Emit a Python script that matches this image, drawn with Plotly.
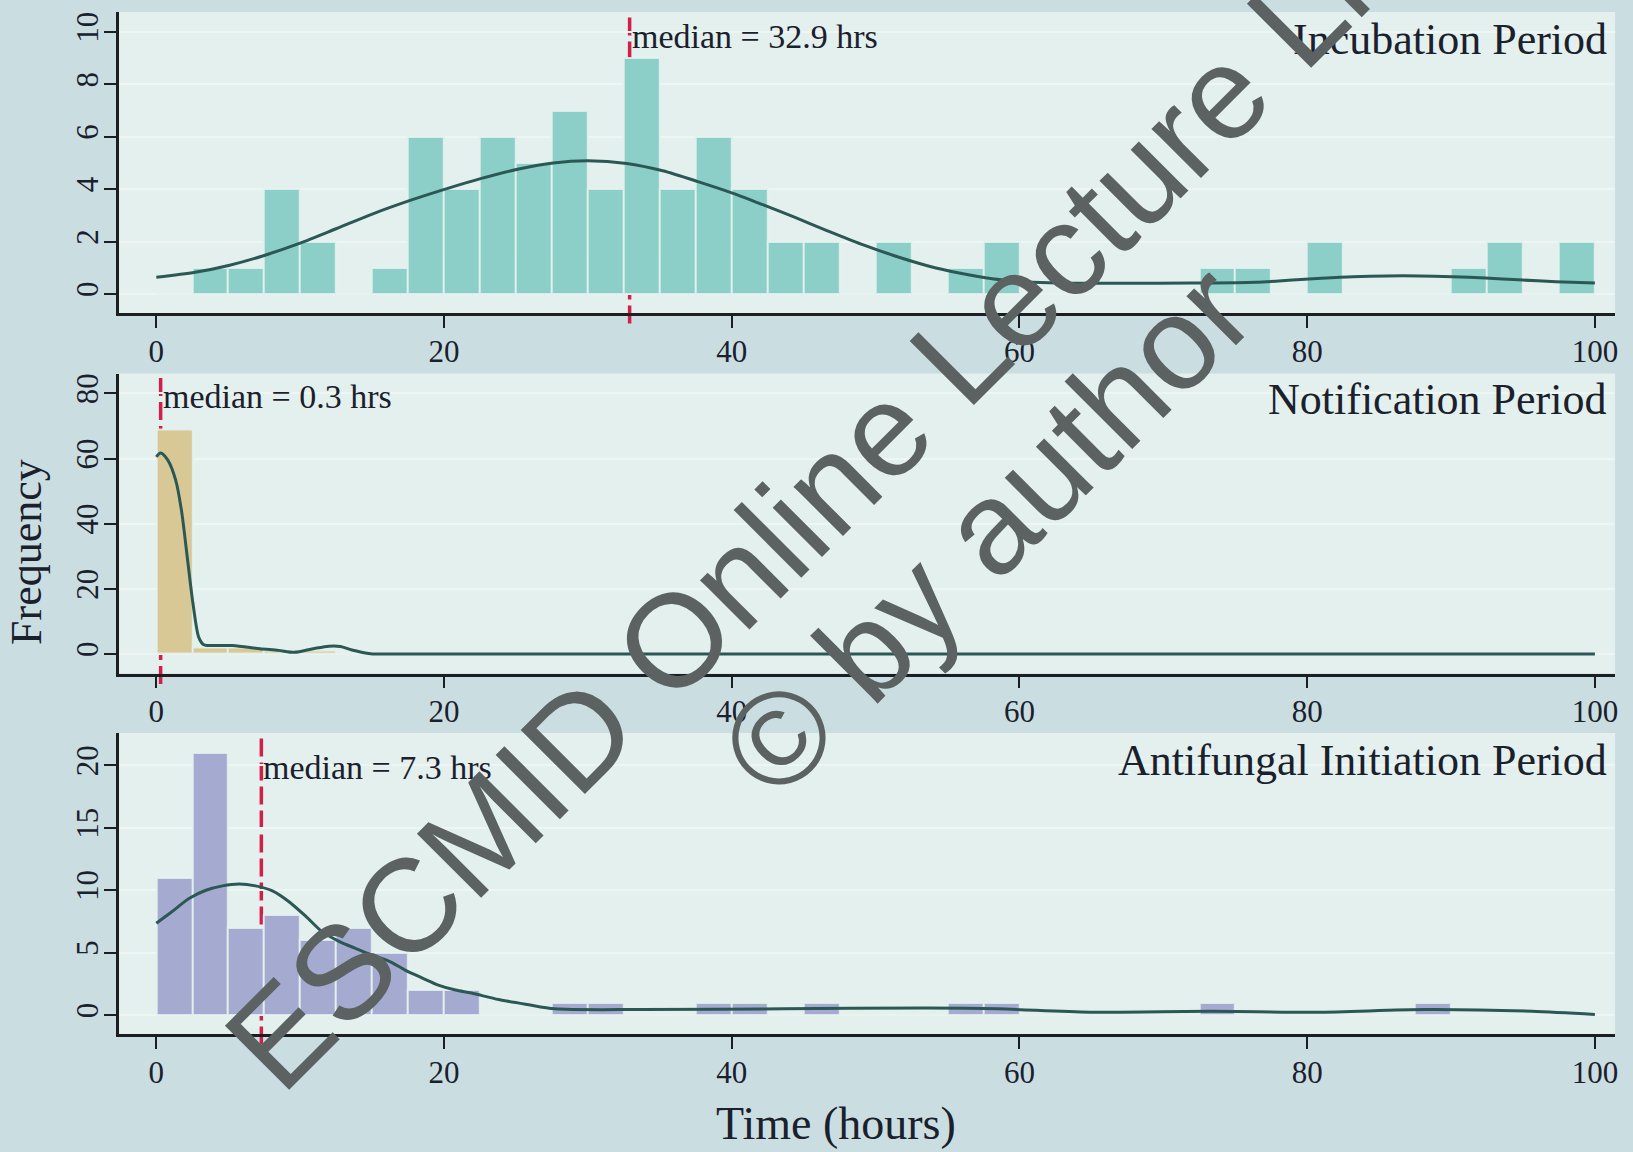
import plotly.graph_objects as go

# ---------------------------------------------------------------------------
# Data
# ---------------------------------------------------------------------------
BIN_WIDTH = 2.5
BIN_LEFT = [0, 2.5, 5, 7.5, 10, 12.5, 15, 17.5, 20, 22.5,
            25, 27.5, 30, 32.5, 35, 37.5, 40, 42.5, 45, 47.5,
            50, 52.5, 55, 57.5, 60, 62.5, 65, 67.5, 70, 72.5,
            75, 77.5, 80, 82.5, 85, 87.5, 90, 92.5, 95, 97.5]

INCUBATION_COUNTS = [0, 1, 1, 4, 2, 0, 1, 6, 4, 6,
                     5, 7, 4, 9, 4, 6, 4, 2, 2, 0,
                     2, 0, 1, 2, 0, 0, 0, 0, 0, 1,
                     1, 0, 2, 0, 0, 0, 1, 2, 0, 2]
NOTIFICATION_COUNTS = [69, 2, 2, 1, 1, 0, 0, 0, 0, 0,
                       0, 0, 0, 0, 0, 0, 0, 0, 0, 0,
                       0, 0, 0, 0, 0, 0, 0, 0, 0, 0,
                       0, 0, 0, 0, 0, 0, 0, 0, 0, 0]
ANTIFUNGAL_COUNTS = [11, 21, 7, 8, 6, 7, 5, 2, 2, 0,
                     0, 1, 1, 0, 0, 1, 1, 0, 1, 0,
                     0, 0, 1, 1, 0, 0, 0, 0, 0, 1,
                     0, 0, 0, 0, 0, 1, 0, 0, 0, 0]

# Kernel density overlays, in frequency units
INCUBATION_KDE_X = [0, 2.7, 5.1, 7.5, 9.9, 12.5, 15.1, 17.7, 20.2, 22.6, 25.2, 27.6,
                    30.0, 32.7, 35.2, 37.7, 40.0, 42.2, 44.4, 46.7, 49.0, 51.3, 53.6,
                    55.9, 58.1, 60.4, 62.7, 67.3, 71.9, 76.4, 78.7, 81.0, 83.2, 85.5,
                    87.8, 90.1, 92.4, 94.7, 97.3, 100]
INCUBATION_KDE_Y = [0.64, 0.83, 1.10, 1.47, 1.92, 2.49, 3.07, 3.58, 4.02, 4.41, 4.77, 5.00,
                    5.08, 4.98, 4.70, 4.28, 3.86, 3.40, 2.92, 2.40, 1.90, 1.46, 1.08,
                    0.79, 0.58, 0.47, 0.42, 0.41, 0.42, 0.45, 0.52, 0.60, 0.66, 0.69,
                    0.69, 0.66, 0.61, 0.54, 0.47, 0.42]

NOTIFICATION_KDE_X = [0, 0.3, 0.8, 1.35, 1.75, 2.15, 2.55, 2.95, 3.3, 3.6, 5.3, 7.2,
                      8.5, 9.6, 10.9, 12.0, 12.8, 13.6, 14.9, 15.5, 30, 50, 70, 100]
NOTIFICATION_KDE_Y = [60.5, 61.7, 59.5, 53.3, 44.0, 29.7, 15.4, 5.1, 2.8, 2.6, 2.6, 1.6,
                      1.1, 0.5, 1.6, 2.4, 2.3, 1.2, 0.05, 0, 0, 0, 0, 0]

ANTIFUNGAL_KDE_X = [0, 1.1, 2.3, 3.45, 4.6, 5.76, 6.9, 8.07, 9.2, 10.4, 11.5, 12.7,
                    13.8, 15.0, 16.2, 17.3, 18.5, 19.6, 20.8, 21.9, 23.8, 25.8, 27.7,
                    33.7, 43.6, 53.5, 58.5, 64.9, 73.3, 80.7, 88.2, 95.6, 100]
ANTIFUNGAL_KDE_Y = [7.36, 8.3, 9.36, 10.0, 10.35, 10.5, 10.35, 9.95, 9.1, 7.9, 6.7, 5.9,
                    5.36, 4.8, 4.3, 3.6, 2.96, 2.4, 2.0, 1.76, 1.24, 0.84, 0.5,
                    0.44, 0.5, 0.57, 0.5, 0.23, 0.3, 0.23, 0.44, 0.3, 0.04]

MEDIANS = [32.9, 0.3, 7.3]
TITLES = ["Incubation Period", "Notification Period", "Antifungal Initiation Period"]
X_TICKS = [0, 20, 40, 60, 80, 100]
Y_TICKS = [[0, 2, 4, 6, 8, 10], [0, 20, 40, 60, 80], [0, 5, 10, 15, 20]]

# ---------------------------------------------------------------------------
# Style
# ---------------------------------------------------------------------------
W, H = 1633, 1152
SERIF = "Liberation Serif, Times New Roman, serif"
TEXT = "#1a202c"
AXIS = "#1b1f22"
PAPER_BG = "#cadee2"
PLOT_BG = "#e3f0ed"
GRID = "#eef6f4"
KDE_COLOR = "#2b5854"
MEDIAN_RED = "#d11f4a"
BAR_COLORS = ["#8ccec8", "#d8c896", "#a5aad0"]

# vertical placement of each panel (pixels from the top): plot top, plot bottom
PANEL_PX = [(12, 313), (373.5, 673.5), (733, 1034)]
Y_RANGES = [[-0.725, 10.76], [-6.0, 86.1], [-1.52, 22.6]]
X_RANGE = [-2.61, 101.4]
X_DOMAIN = [119 / W, 1618 / W]
TITLE_Y_PX = [40, 399, 760]
MEDIAN_LABEL_Y = [0.92, 0.925, 0.885]

panels = [
    (INCUBATION_COUNTS, INCUBATION_KDE_X, INCUBATION_KDE_Y),
    (NOTIFICATION_COUNTS, NOTIFICATION_KDE_X, NOTIFICATION_KDE_Y),
    (ANTIFUNGAL_COUNTS, ANTIFUNGAL_KDE_X, ANTIFUNGAL_KDE_Y),
]

fig = go.Figure()
layout_axes = {}

for i, (counts, kx, ky) in enumerate(panels):
    n = "" if i == 0 else str(i + 1)
    xa, ya = "x" + n, "y" + n

    fig.add_trace(go.Bar(
        x=BIN_LEFT, y=counts, width=BIN_WIDTH, offset=0,
        marker=dict(color=BAR_COLORS[i],
                    line=dict(color="rgba(228,242,238,0.85)", width=2)),
        xaxis=xa, yaxis=ya, showlegend=False, hoverinfo="skip",
    ))
    fig.add_trace(go.Scatter(
        x=kx, y=ky, mode="lines",
        line=dict(color=KDE_COLOR, width=3, shape="spline", smoothing=0.8),
        xaxis=xa, yaxis=ya, showlegend=False, hoverinfo="skip",
    ))

    med = MEDIANS[i]
    fig.add_shape(
        type="line", xref=xa, yref=ya + " domain",
        x0=med, x1=med, y0=-0.035, y1=1.0, layer="below",
        line=dict(color=MEDIAN_RED, width=3.5, dash="18px,6px"),
    )
    fig.add_annotation(
        xref=xa, yref=ya + " domain", x=med, y=MEDIAN_LABEL_Y[i],
        xanchor="left", yanchor="middle", showarrow=False,
        text=f"median = {med} hrs",
        font=dict(family=SERIF, size=34, color=TEXT),
    )
    fig.add_annotation(
        xref="paper", yref="paper", x=1612 / W, y=1 - TITLE_Y_PX[i] / H,
        xanchor="right", yanchor="middle", showarrow=False,
        text=TITLES[i], font=dict(family=SERIF, size=44, color=TEXT),
    )

    top_px, bot_px = PANEL_PX[i]
    axis_common = dict(
        showline=True, linecolor=AXIS, linewidth=2.5,
        ticks="outside", ticklen=12, tickwidth=2, tickcolor=AXIS,
        tickfont=dict(family=SERIF, size=31, color=TEXT),
        zeroline=False,
    )
    layout_axes["xaxis" + n] = dict(
        domain=X_DOMAIN, anchor=ya, range=X_RANGE,
        tickmode="array", tickvals=X_TICKS, showgrid=False,
        ticklabelstandoff=-3,
        **axis_common,
    )
    layout_axes["yaxis" + n] = dict(
        domain=[1 - bot_px / H, 1 - top_px / H], anchor=xa, range=Y_RANGES[i],
        tickmode="array", tickvals=Y_TICKS[i], tickangle=-90,
        showgrid=True, gridcolor=GRID, gridwidth=2,
        ticklabelstandoff=-6,
        **axis_common,
    )

# axis titles shared by the stacked panels
fig.add_annotation(
    xref="paper", yref="paper", x=26 / W, y=1 - 552 / H,
    xanchor="center", yanchor="middle", textangle=-90, showarrow=False,
    text="Frequency", font=dict(family=SERIF, size=44, color=TEXT),
)
fig.add_annotation(
    xref="paper", yref="paper", x=838 / W, y=1 - 1123 / H,
    xanchor="center", yanchor="middle", showarrow=False,
    text="Time (hours)", font=dict(family=SERIF, size=46, color=TEXT),
)

# diagonal watermark
WM_FONT = dict(family="Liberation Sans, Arial, sans-serif", size=132, color="#5b6261")
fig.add_annotation(
    xref="paper", yref="paper", x=905 / W, y=1 - 412 / H,
    xanchor="center", yanchor="middle", textangle=-45, showarrow=False,
    text="ESCMID Online Lecture Library", font=WM_FONT,
)
fig.add_annotation(
    xref="paper", yref="paper", x=988 / W, y=1 - 530 / H,
    xanchor="center", yanchor="middle", textangle=-45, showarrow=False,
    text="© by author", font=WM_FONT,
)

fig.update_layout(
    width=W, height=H, autosize=False,
    margin=dict(l=0, r=0, t=0, b=0),
    paper_bgcolor=PAPER_BG, plot_bgcolor=PLOT_BG,
    bargap=0, barmode="overlay",
    **layout_axes,
)

fig.write_html("out.html")
